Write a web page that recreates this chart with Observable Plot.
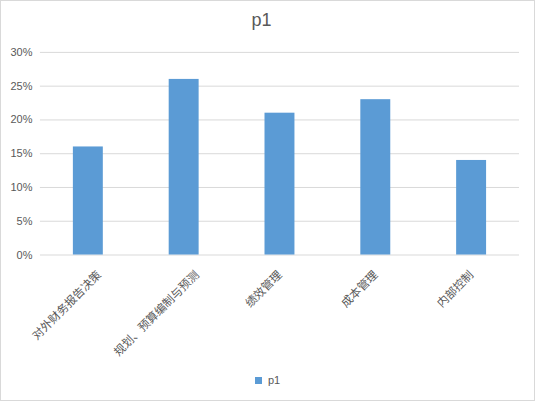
<!DOCTYPE html>
<html>
<head>
<meta charset="utf-8">
<script src="https://cdn.jsdelivr.net/npm/d3@7"></script>
<script src="https://cdn.jsdelivr.net/npm/@observablehq/plot@0.6"></script>
<style>
  html, body { margin: 0; padding: 0; background: #fff; }
  #chart { position: relative; width: 535px; height: 401px; box-sizing: border-box; border: 1px solid #d9d9d9; overflow: hidden; font-family: "Liberation Sans", Arial, sans-serif; }
  #title { position: absolute; top: 9px; left: 0; width: 521px; text-align: center; font-size: 18px; color: #595959; }
  #plot { position: absolute; top: -1px; left: -1px; }
  #legend { position: absolute; top: 373px; left: 254px; display: flex; align-items: center; font-size: 11px; color: #595959; }
  #legend .sw { width: 7px; height: 7px; background: #5B9BD5; margin-right: 6px; }
</style>
</head>
<body>
<div id="chart">
  <div id="title">p1</div>
  <div id="plot"></div>
  <div id="legend"><span class="sw"></span><span>p1</span></div>
</div>
<script>
const categories = ["对外财务报告决策", "规划、预算编制与预测", "绩效管理", "成本管理", "内部控制"];
const values = [0.16, 0.26, 0.21, 0.23, 0.14];
const yTicks = [0, 0.05, 0.10, 0.15, 0.20, 0.25, 0.30];
const seriesName = "p1";

const data = categories.map((c, i) => ({category: c, value: values[i]}));

const labelMarks = categories.map(c => Plot.text([c], {
  x: d => d, y: () => 0,
  text: d => d,
  rotate: -45,
  textAnchor: "end",
  dy: 18,
  dx: c.length > 4 ? c.length + 3 : 0,
  fontSize: 11.5,
  fill: "#595959",
  fontFamily: "'Noto Sans CJK SC', sans-serif",
  letterSpacing: 0.4
}));

const plot = Plot.plot({
  width: 535,
  height: 360,
  marginTop: 52,
  marginBottom: 105,
  marginLeft: 40,
  marginRight: 15,
  style: {background: "transparent", fontFamily: "'Liberation Sans', Arial, sans-serif", fontSize: "11px", color: "#595959", overflow: "visible"},
  x: {domain: categories, paddingInner: 0.69, paddingOuter: 0.345, axis: null},
  y: {domain: [0, 0.30], ticks: yTicks, tickFormat: d3.format(".0%"), label: null},
  marks: [
    Plot.gridY(yTicks, {stroke: "#d9d9d9", strokeOpacity: 1, strokeWidth: 1}),
    Plot.axisY(yTicks, {tickSize: 0, tickPadding: 8, tickFormat: d3.format(".0%"), label: null, fill: "#595959", fontSize: 11}),
    Plot.barY(data, {x: "category", y: "value", fill: "#5B9BD5"}),
    ...labelMarks
  ]
});
document.getElementById("plot").appendChild(plot);
</script>
</body>
</html>
